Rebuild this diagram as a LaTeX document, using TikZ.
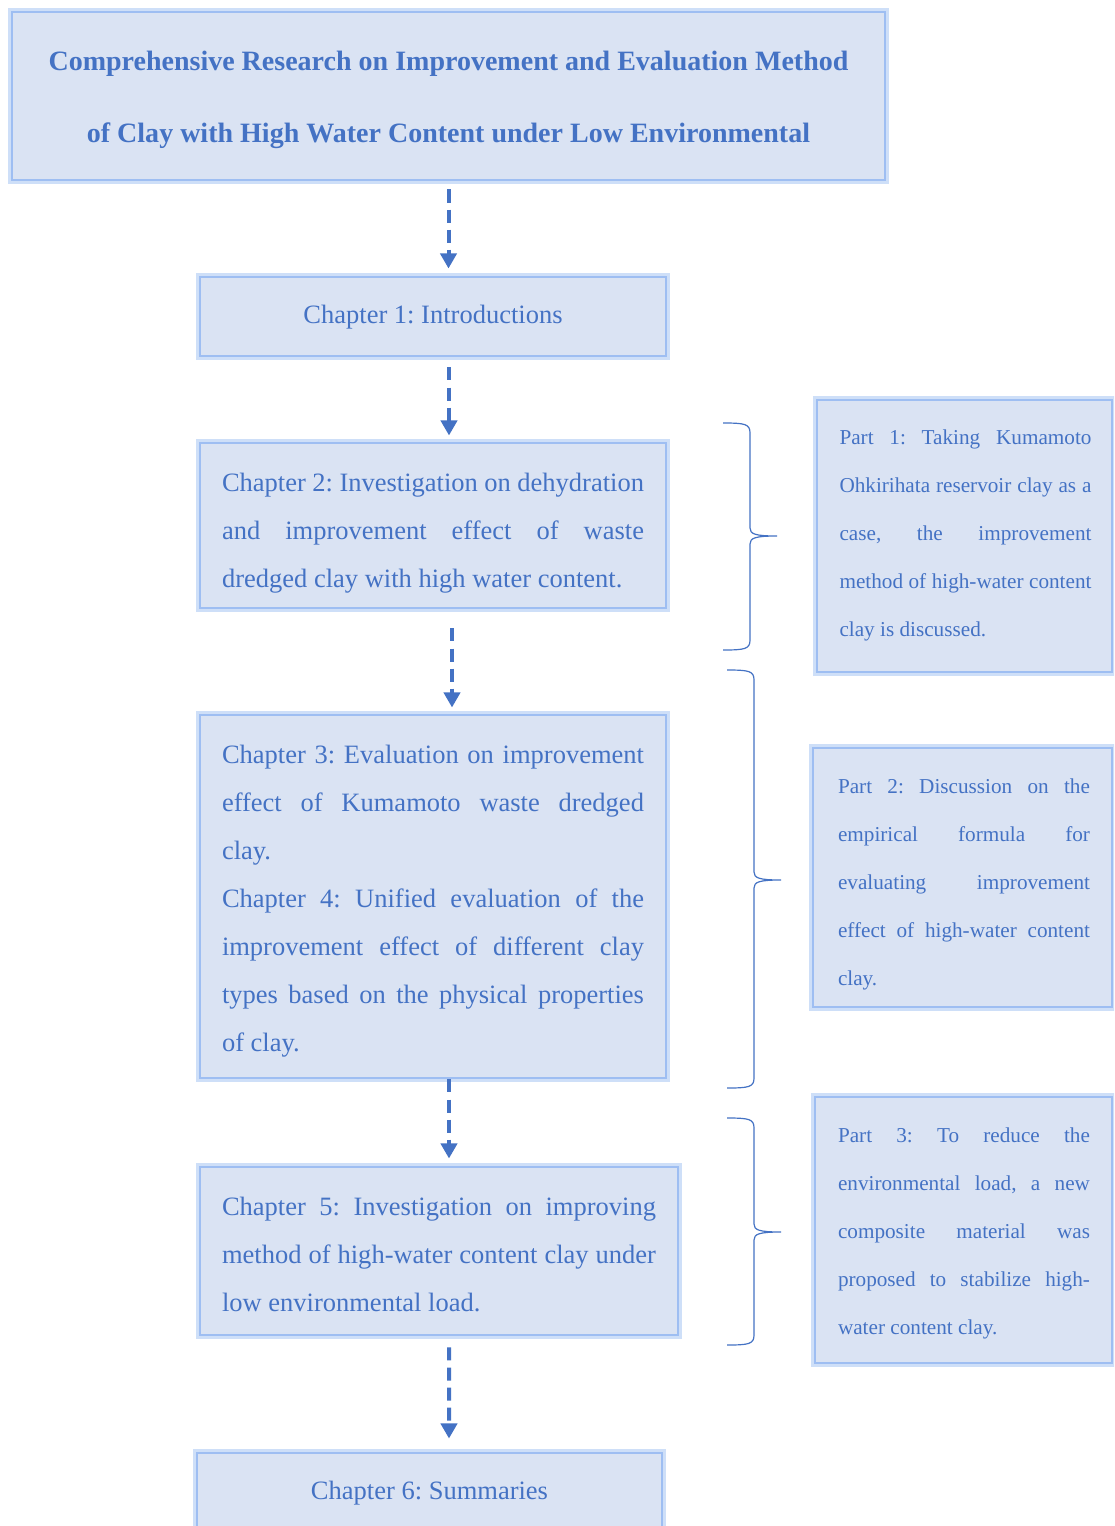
\documentclass[tikz,border=0pt]{standalone}
\usepackage{fontspec}
\setmainfont{Liberation Serif}
\usetikzlibrary{arrows.meta}
\definecolor{chapblue}{RGB}{68,114,196}
\definecolor{boxfill}{RGB}{218,227,243}
\definecolor{glowblue}{RGB}{158,190,242}
\newlength\pxu
\setlength\pxu{0.025cm}
\tolerance=10000
\hyphenpenalty=10000
\frenchspacing
\tikzset{
  framebox/.style={draw=glowblue, line width=2.1pt, fill=boxfill,
    preaction={draw=glowblue!50, line width=6pt}, inner sep=0pt},
  chaptext/.style={font=\fontsize{18.85}{34.14}\selectfont, text=chapblue, inner sep=0pt},
  parttext/.style={font=\fontsize{15.08}{34.14}\selectfont, text=chapblue, inner sep=0pt,
    align=justify, text width=252\pxu},
  titletext/.style={font=\fontsize{19.92}{51.2}\selectfont\bfseries, text=chapblue, align=center},
  flow/.style={chapblue, line width=2.85pt, dash pattern=on 9.25pt off 5pt,
    -{Triangle[width=11.4pt, length=10.7pt]}},
  braceline/.style={chapblue, line width=0.85pt}
}
% right brace: left x, top y, tip y, bottom y
\newcommand\partbrace[4]{%
  \draw[braceline] (#1,#2) .. controls (#1+22,#2) and (#1+27,#2+1) .. (#1+27,#2+10)
    -- (#1+27,#3-8) .. controls (#1+27,#3-2) and (#1+32,#3) .. (#1+54,#3)
    .. controls (#1+32,#3) and (#1+27,#3+2) .. (#1+27,#3+8)
    -- (#1+27,#4-10) .. controls (#1+27,#4-1) and (#1+22,#4) .. (#1,#4);}

\begin{document}
\begin{tikzpicture}[x=0.025cm, y=-0.025cm]
  \useasboundingbox (0,0) rectangle (1114,1526);
  \clip (0,0) rectangle (1114,1526);
  \fill[white] (0,0) rectangle (1114,1526);

  % Title
  \node[framebox, minimum width=873\pxu, minimum height=168\pxu] (title) at (448.5,96) {};
  \node[titletext] (titletxt) at (448.5,100)
    {Comprehensive Research on Improvement and Evaluation Method\\
     of Clay with High Water Content under Low Environmental};

  % Chapter boxes
  \node[framebox, minimum width=466\pxu, minimum height=79\pxu] (ch1) at (433,316.5) {};
  \node[framebox, minimum width=466\pxu, minimum height=165\pxu] (ch2) at (433,525.5) {};
  \node[framebox, minimum width=466\pxu, minimum height=363\pxu] (ch34) at (433,896.5) {};
  \node[framebox, minimum width=478\pxu, minimum height=168\pxu] (ch5) at (439,1251) {};
  \node[framebox, minimum width=465\pxu, minimum height=79\pxu] (ch6) at (429.5,1492.5) {};

  % Chapter texts
  \node[chaptext] (ch1txt) at (433,317.5) {Chapter 1: Introductions};
  \node[chaptext, align=justify, text width=422\pxu] (ch2txt) at (433,533.5)
    {Chapter 2: Investigation on dehydration \linebreak and improvement effect of waste \linebreak dredged clay with high water content.};
  \node[chaptext, align=justify, text width=422\pxu] (ch34txt) at (433,901.5)
    {Chapter 3: Evaluation on improvement \linebreak effect of Kumamoto waste dredged \linebreak clay.\par
     Chapter 4: Unified evaluation of the \linebreak improvement effect of different clay \linebreak types based on the physical properties \linebreak of clay.};
  \node[chaptext, align=justify, text width=434\pxu] (ch5txt) at (439,1254)
    {Chapter 5: Investigation on improving \linebreak method of high-water content clay under \linebreak low environmental load.};
  \node[chaptext] (ch6txt) at (429.5,1493.5) {Chapter 6: Summaries};

  % Part boxes
  \node[framebox, minimum width=295\pxu, minimum height=272\pxu] (part1) at (964.5,536) {};
  \node[framebox, minimum width=299\pxu, minimum height=259\pxu] (part2) at (962.5,877.5) {};
  \node[framebox, minimum width=297\pxu, minimum height=266\pxu] (part3) at (963.5,1230) {};
  \node[parttext] (part1txt) at (965.5,535)
    {Part 1: Taking Kumamoto \linebreak Ohkirihata reservoir clay as a \linebreak case, the improvement \linebreak method of high-water content \linebreak clay is discussed.};
  \node[parttext] (part2txt) at (964,884.5)
    {Part 2: Discussion on the \linebreak empirical formula for \linebreak evaluating improvement \linebreak effect of high-water content \linebreak clay.};
  \node[parttext] (part3txt) at (964,1233)
    {Part 3: To reduce the \linebreak environmental load, a new \linebreak composite material was \linebreak proposed to stabilize high-\linebreak water content clay.};

  % Flow arrows
  \coordinate (ch6in) at ([xshift=19.5\pxu]ch6.north);
  \draw[flow, shorten <=5.7pt, shorten >=5pt] (title.south) -- (title.south |- ch1.north);
  \draw[flow, shorten <=7.1pt, shorten >=4.3pt] ([xshift=16\pxu]ch1.south) -- ([xshift=16\pxu]ch2.north);
  \draw[flow, shorten <=13.5pt, shorten >=4.3pt] ([xshift=19\pxu]ch2.south) -- ([xshift=19\pxu]ch34.north);
  \draw[flow, shorten >=5pt] ([xshift=16\pxu]ch34.south) -- ([xshift=10\pxu]ch5.north);
  \draw[flow, shorten <=7.8pt, shorten >=9.25pt] ([xshift=10\pxu]ch5.south) -- (ch6in);

  % Braces
  \partbrace{723}{423}{536}{650}
  \partbrace{727}{670}{880}{1088}
  \partbrace{727}{1118}{1232}{1345}
\end{tikzpicture}
\end{document}
